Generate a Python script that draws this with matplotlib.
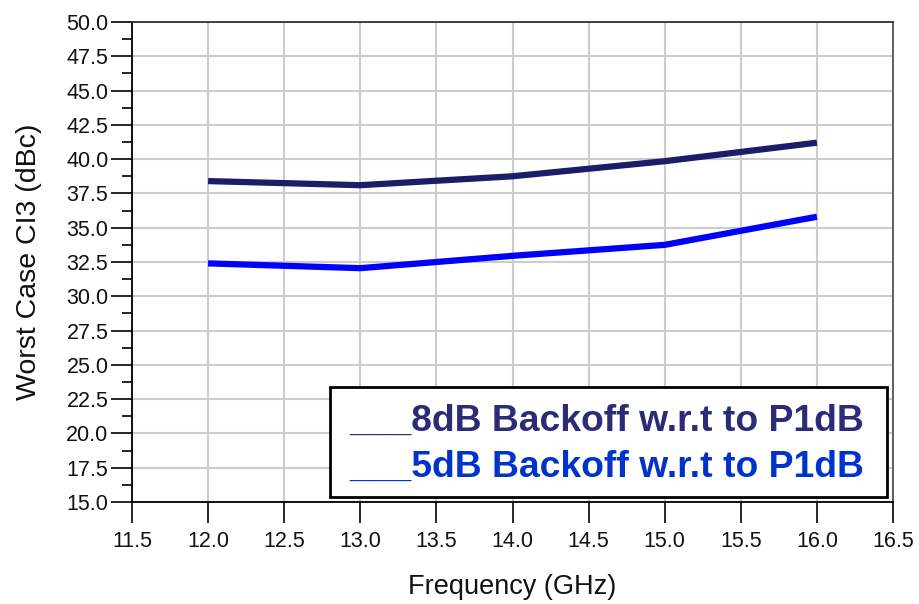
import matplotlib
matplotlib.use("Agg")
import matplotlib.pyplot as plt
from matplotlib.patches import Rectangle
from matplotlib.ticker import MultipleLocator, FormatStrFormatter

plt.rcParams['font.family'] = ['Liberation Sans', 'DejaVu Sans']

freq = [12.0, 13.0, 14.0, 15.0, 16.0]
ci3_8db = [38.4, 38.1, 38.75, 39.85, 41.2]
ci3_5db = [32.4, 32.05, 32.95, 33.75, 35.8]
labels = ["___8dB Backoff w.r.t to P1dB", "___5dB Backoff w.r.t to P1dB"]
line_colors = ["#1c1c6b", "#0000ff"]
text_colors = ["#2b2b78", "#0033cc"]

fig = plt.figure(figsize=(9.19, 6.04), dpi=100)
ax = fig.add_axes([132/919, 1-502/604, (893-132)/919, (502-22)/604])

ax.plot(freq, ci3_8db, color=line_colors[0], lw=4.5, solid_capstyle='butt', zorder=3)
ax.plot(freq, ci3_5db, color=line_colors[1], lw=4.5, solid_capstyle='butt', zorder=3)

ax.set_xlim(11.5, 16.5)
ax.set_ylim(15.0, 50.0)
ax.xaxis.set_major_locator(MultipleLocator(0.5))
ax.yaxis.set_major_locator(MultipleLocator(2.5))
ax.yaxis.set_minor_locator(MultipleLocator(1.25))
ax.xaxis.set_major_formatter(FormatStrFormatter('%.1f'))
ax.yaxis.set_major_formatter(FormatStrFormatter('%.1f'))
ax.tick_params(axis='both', which='major', direction='out', length=15, width=1.2, labelsize=15.5, pad=2, color='black', labelcolor='#111111')
ax.tick_params(axis='x', which='major', pad=6)
ax.tick_params(axis='y', which='minor', direction='out', length=7, width=1.2)
ax.grid(True, which='major', color='#cccccc', lw=1.5, zorder=0)
for s in ax.spines.values():
    s.set_linewidth(1.3)
    s.set_color('black')
ax.spines['right'].set_color('#555555')
ax.spines['top'].set_color('#333333')

ax.set_xlabel("Frequency (GHz)", fontsize=19.5, labelpad=16, color='#111111')
ax.set_ylabel("Worst Case CI3 (dBc)", fontsize=20.5, color='#111111')
ax.yaxis.set_label_coords(-(132-42)/761, 0.5)

# legend box
x0 = (330-132)/(893-132); x1 = (887-132)/(893-132)
y0 = (502-497)/480; y1 = (502-387)/480
ax.add_patch(Rectangle((x0, y0), x1-x0, y1-y0, transform=ax.transAxes,
                       facecolor='white', edgecolor='black', lw=2, zorder=5))
tx = (349-132)/(893-132)
for lab, c, yy in zip(labels, text_colors, [421, 467]):
    ax.text(tx, (502-yy)/480, lab, transform=ax.transAxes, color=c, fontsize=26.8,
            fontweight='bold', va='center', ha='left', zorder=6)

fig.savefig("out.png", dpi=100)
